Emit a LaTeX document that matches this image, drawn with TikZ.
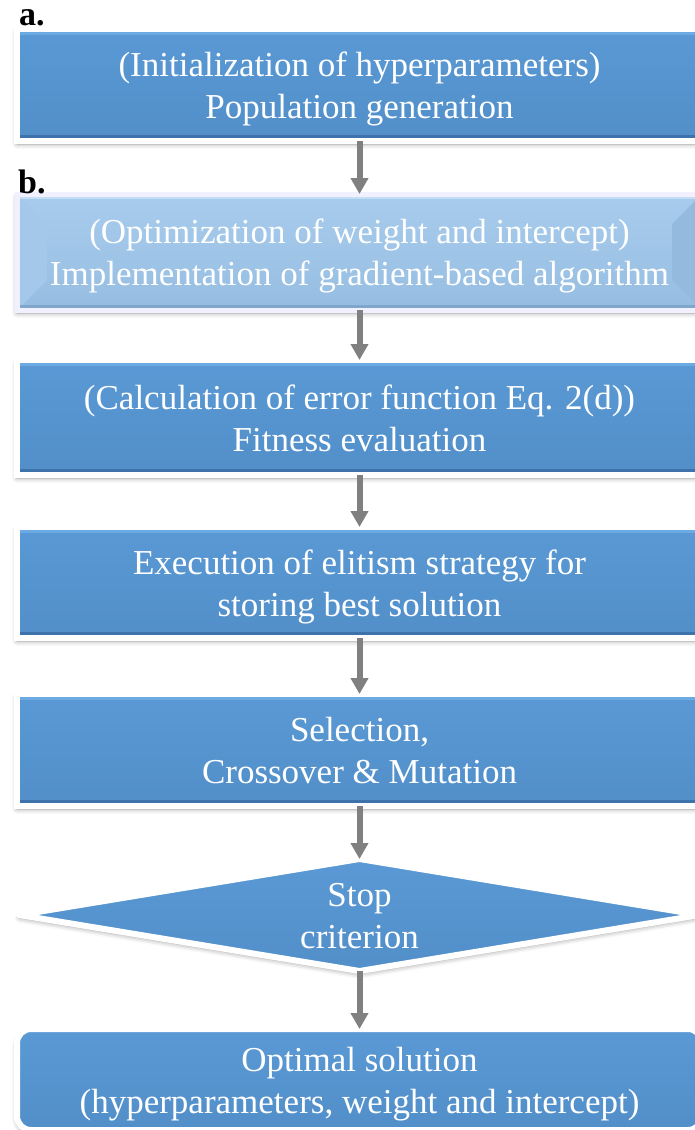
\documentclass[tikz,border=0pt]{standalone}
\usepackage{fontspec}
\setmainfont{Liberation Serif}
\usetikzlibrary{arrows.meta,shapes.geometric,shadows.blur}
\definecolor{boxblue}{RGB}{86,148,207}
\definecolor{boxtop}{RGB}{90,153,213}
\definecolor{boxbot}{RGB}{82,143,201}
\definecolor{edgelight}{RGB}{108,170,228}
\definecolor{edgedark}{RGB}{62,114,170}
\definecolor{litetop}{RGB}{168,204,237}
\definecolor{litebot}{RGB}{150,189,225}
\definecolor{litebevL}{RGB}{163,200,233}
\definecolor{litebevR}{RGB}{148,186,222}
\definecolor{liteedge}{RGB}{128,166,203}
\definecolor{arrowgray}{RGB}{128,128,128}
\newcommand{\ftop}{\rule{0pt}{32.6pt}}
\newcommand{\fbot}{\rule[-7.6pt]{0pt}{0pt}}
\tikzset{
  boxtext/.style={text=white, font=\fontsize{35pt}{42pt}\selectfont, align=center, inner sep=0pt, outer sep=0pt},
  shadowed/.style={blur shadow={shadow xshift=0pt, shadow yshift=-3pt, shadow blur radius=5pt, shadow opacity=40}},
  bluebox/.style={boxtext, shadowed, rectangle, draw=white, line width=6pt,
    minimum width=685pt, top color=boxtop, bottom color=boxbot,
    path picture={
      \fill[edgelight] (path picture bounding box.north west) rectangle ([yshift=-5.5pt]path picture bounding box.north east);
      \fill[edgedark] (path picture bounding box.south west) rectangle ([yshift=6.5pt]path picture bounding box.south east);
    }},
  litebox/.style={boxtext, shadowed, rectangle, draw=white!94!blue, line width=5pt,
    minimum width=685pt, top color=litetop, bottom color=litebot,
    path picture={
      \fill[litebevL] (path picture bounding box.north west) -- ([shift={(30pt,-30pt)}]path picture bounding box.north west) -- ([shift={(30pt,30pt)}]path picture bounding box.south west) -- (path picture bounding box.south west) -- cycle;
      \fill[litebevR] (path picture bounding box.north east) -- ([shift={(-30pt,-30pt)}]path picture bounding box.north east) -- ([shift={(-30pt,30pt)}]path picture bounding box.south east) -- (path picture bounding box.south east) -- cycle;
      \fill[white, opacity=0.35] (path picture bounding box.north west) rectangle ([yshift=-5pt]path picture bounding box.north east);
      \fill[liteedge] (path picture bounding box.south west) rectangle ([yshift=5pt]path picture bounding box.south east);
    }},
  decisionbox/.style={boxtext, shadowed, diamond, draw=white, line width=6pt, line join=round,
    minimum width=680pt, minimum height=112pt, aspect=6.07, top color=boxtop, bottom color=boxbot},
  endbox/.style={bluebox, rounded corners=14pt, path picture={}},
  flowarrow/.style={draw=arrowgray, line width=6pt, -{Triangle[width=17pt,length=16pt]}},
  panellabel/.style={font=\fontsize{34pt}{40pt}\selectfont\bfseries, inner sep=0pt, anchor=base west}
}
\begin{document}
\begin{tikzpicture}[x=1pt,y=-1pt]
\useasboundingbox (0,0) rectangle (694,1130);

\node[bluebox, minimum height=112pt] (init) at (359.5,85) {\ftop(Initialization of hyperparameters)\\Population generation\fbot};
\node[litebox, minimum height=116pt] (grad) at (359.5,252) {\ftop(Optimization of weight and intercept)\\Implementation of gradient-based algorithm\fbot};
\node[bluebox, minimum height=115pt] (fit) at (359.5,417.5) {\ftop(Calculation of error function Eq. 2(d))\\Fitness evaluation\fbot};
\node[bluebox, minimum height=111pt] (elite) at (359.5,582.5) {\ftop Execution of elitism strategy for\\storing best solution\fbot};
\node[bluebox, minimum height=112pt] (sel) at (359.5,750) {\ftop Selection,\\Crossover \& Mutation\fbot};
\node[decisionbox] (stop) at (359.5,915) {\ftop Stop\\criterion\fbot};
\node[endbox, minimum height=101pt] (opt) at (359.5,1079.5) {\ftop Optimal solution\\(hyperparameters, weight and intercept)\fbot};

\node[panellabel] (la) at (19,25) {a.};
\node[panellabel] (lb) at (18,193) {b.};

\draw[flowarrow] (init.south) -- (grad.north);
\draw[flowarrow] (grad.south) -- (fit.north);
\draw[flowarrow] (fit.south) -- (elite.north);
\draw[flowarrow] (elite.south) -- (sel.north);
\draw[flowarrow] (sel.south) -- (stop.north);
\draw[flowarrow] (stop.south) -- (opt.north);
\end{tikzpicture}
\end{document}
